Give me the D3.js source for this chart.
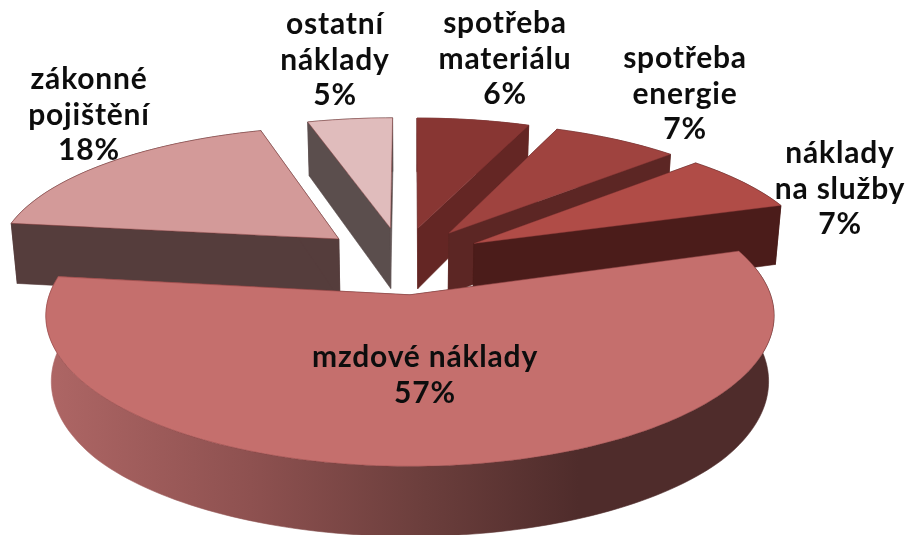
<!DOCTYPE html>
<html>
<head>
<meta charset="utf-8">
<script src="https://cdn.jsdelivr.net/npm/d3@7"></script>
<style>
    html, body { margin: 0; padding: 0; background: #fff; }
    svg { display: block; }
    text { font-family: Lato, sans-serif; font-weight: 700; fill: #111; text-anchor: middle; letter-spacing: 0.8px; }
</style>
</head>
<body>
<div id="chart"></div>
<script>
// Data, in the order the pie runs clockwise from the top.
const categories = [
    ["spotřeba", "materiálu"],
    ["spotřeba", "energie"],
    ["náklady", "na služby"],
    ["mzdové náklady"],
    ["zákonné", "pojištění"],
    ["ostatní", "náklady"]
];
const shares = [6.1, 6.9, 7, 57, 18.4, 4.6];

const topColors = ["#883633", "#9f433f", "#b04c47", "#c56f6d", "#d39a99", "#e0bcbc"];
const sideColors = ["#642624", "#5c2624", "#4b1c1a", "url(#wallFill)", "#553d3c", "#5b4e4d"];

function drawChart() {
    const width = 906, height = 535;

    // Perspective of the pie plane
    const tilt = 0.139;       // how fast things shrink towards the back
    const explode = 0.243;    // slice offset, in pie radii
    const centerX = -0.023, centerY = 0.25;
    const depth = 64.5;
    const bottomShrink = 0.985;
    const smallRadiusX = 0.985, smallRadiusY = 0.955; // the back slices come out a bit smaller

    const x = d3.scaleLinear().domain([-1, 1]).range([410 - 361, 410 + 361]);
    const y = d3.scaleLinear().domain([-1, 1]).range([296 + 148, 296 - 148]);

    // Label anchors: x centre and first line baseline, by slice
    const labelPos = [[505, 33], [685, 68], [840, 163], [425, 367], [89, 89], [335, 34]];
    const lineHeight = 35.5;

    const svg = d3.select("#chart").append("svg")
        .attr("width", width)
        .attr("height", height);

    const defs = svg.append("defs");
    const grad = defs.append("linearGradient")
        .attr("id", "wallFill")
        .attr("gradientUnits", "userSpaceOnUse")
        .attr("x1", 47).attr("x2", 775).attr("y1", 0).attr("y2", 0);
    [[0, "#ae6665"], [0.28, "#8e5150"], [0.52, "#6b3e3c"], [0.73, "#4f2c2b"], [1, "#4f2c2b"]].forEach(s => {
        grad.append("stop").attr("offset", s[0]).attr("stop-color", s[1]);
    });
    defs.append("filter").attr("id", "soft")
        .append("feGaussianBlur").attr("stdDeviation", 0.45);

    const biggest = d3.max(shares);
    const pie = d3.pie().sort(null).value(d => d);
    const arcs = pie(shares).map((a, i) => {
        const mid = (a.startAngle + a.endAngle) / 2;
        return {
            i: i,
            start: a.startAngle,
            end: a.endAngle,
            mid: mid,
            cx: centerX + explode * Math.sin(mid),
            cy: centerY + explode * Math.cos(mid),
            rx: shares[i] === biggest ? 1 : smallRadiusX,
            ry: shares[i] === biggest ? 1 : smallRadiusY
        };
    });

    // plane -> screen, top face (level 0) or bottom face (level 1)
    function project(px, py, level) {
        const w = 1 + tilt * py;
        let sx = x(px / w), sy = y(py / w);
        if (level) {
            sx = 410 + (sx - 410) * bottomShrink;
            sy += depth / Math.max(w, 0.92);
        }
        return [sx, sy];
    }

    function rim(a, level) {
        const n = Math.max(8, Math.ceil((a.end - a.start) * 40));
        return d3.range(n + 1).map(k => {
            const t = a.start + (a.end - a.start) * k / n;
            return project(a.cx + a.rx * Math.sin(t), a.cy + a.ry * Math.cos(t), level);
        });
    }

    const line = d3.line();
    const edge = "#8a3a3a";

    // Painter's order: back slices first, the big front one last
    const order = arcs.slice().sort((a, b) => d3.descending(Math.cos(a.mid), Math.cos(b.mid)));

    order.forEach(a => {
        const g = svg.append("g").attr("class", "slice");
        const apexTop = project(a.cx, a.cy, 0), apexBottom = project(a.cx, a.cy, 1);
        const topRim = rim(a, 0), bottomRim = rim(a, 1);
        const n = topRim.length - 1;

        const walls = [
            topRim.concat(bottomRim.slice().reverse()),
            [apexTop, topRim[0], bottomRim[0], apexBottom],
            [apexTop, topRim[n], bottomRim[n], apexBottom]
        ];
        walls.forEach(w => {
            g.append("path")
                .attr("d", line(w) + "Z")
                .attr("fill", sideColors[a.i])
                .attr("stroke", sideColors[a.i])
                .attr("stroke-width", 0.6);
        });

        g.append("path")
            .attr("d", line([apexTop].concat(topRim)) + "Z")
            .attr("fill", topColors[a.i])
            .attr("stroke", edge)
            .attr("stroke-opacity", 0.55)
            .attr("stroke-width", 0.8)
            .attr("stroke-linejoin", "round");
    });

    // Labels
    categories.forEach((lines, i) => {
        const t = svg.append("text")
            .attr("font-size", 30)
            .attr("filter", "url(#soft)")
            .attr("y", labelPos[i][1]);
        lines.concat(Math.round(shares[i]) + "%").forEach((s, k) => {
            t.append("tspan")
                .attr("x", labelPos[i][0])
                .attr("dy", k ? lineHeight : 0)
                .text(s);
        });
    });
}
drawChart();
</script>
</body>
</html>
